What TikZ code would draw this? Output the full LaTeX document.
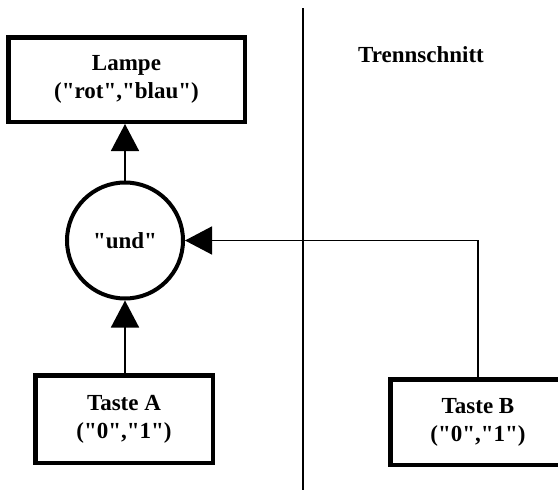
\documentclass[tikz,border=0pt]{standalone}
\usepackage{fontspec}
\setmainfont{Liberation Serif}[Ligatures=TeXOff]
\usetikzlibrary{arrows.meta}
\begin{document}
\begin{tikzpicture}[x=1pt,y=-1pt,
  lbl/.style={font=\bfseries\fontsize{23}{28}\selectfont},
  box/.style={lbl, draw, line width=4.5pt, align=center, inner sep=0pt},
  gate/.style={lbl, draw, circle, line width=4pt, minimum size=116pt, inner sep=0pt},
  conn/.style={line width=1.5pt, -{Triangle[width=28pt,length=27pt]}},
  sep/.style={line width=1.5pt}]
\useasboundingbox (0,0) rectangle (558,490);
\clip (0,0) rectangle (558,490);
\node[box, minimum width=236.5pt, minimum height=84.5pt] (lampe) at (126.5,79.5) {Lampe\\("rot","blau")};
\node[gate] (und) at (125,240.5) {"und"};
\node[box, minimum width=177.5pt, minimum height=87.5pt] (ta) at (124,419) {Taste A\\("0","1")};
\node[box, minimum width=175.5pt, minimum height=85.5pt] (tb) at (478,422) {Taste B\\("0","1")};
\node[lbl] (trenn) at (421,55) {Trennschnitt};
\coordinate (st) at (303,8);
\coordinate (sb) at (303,490);
\draw[sep] (st) -- (sb);
\draw[conn] (und.north) -- (und.north |- lampe.south);
\draw[conn] (ta.north -| und) -- (und.south);
\draw[conn] (tb.north) |- (und.east);
\end{tikzpicture}
\end{document}
